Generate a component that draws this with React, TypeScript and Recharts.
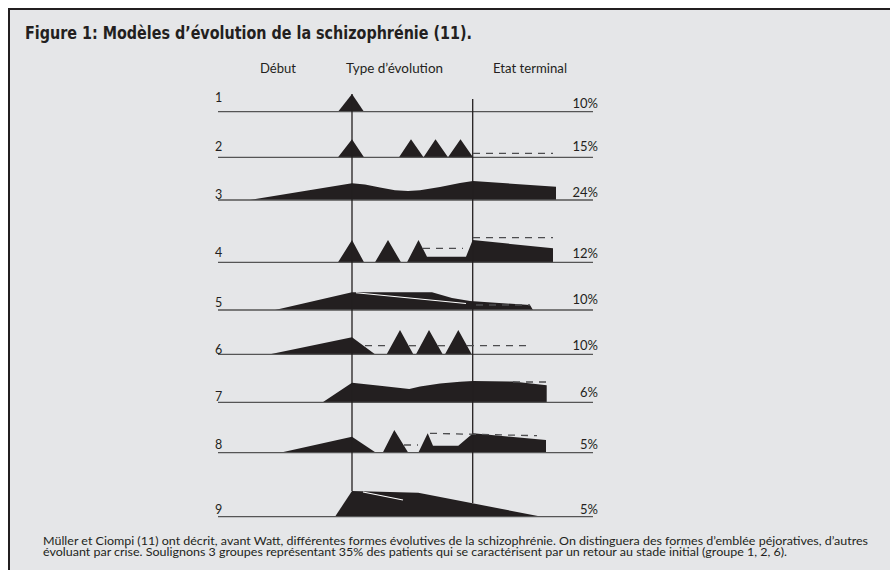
import React from 'react';
import { ComposedChart, Area, Line, Scatter, XAxis, YAxis, Customized } from 'recharts';

const W = 890;
const H = 570;
const INK = '#231f20';
const BG = '#e5e6e8';
const TEXT_FONT = 'Lato, "Open Sans", sans-serif';

// rows: base line level, name, share
const rowBase = [111.7, 157.3, 200, 262.3, 310, 354.3, 402.3, 452.7, 516.7];
const rowNames = ['1', '2', '3', '4', '5', '6', '7', '8', '9'];
const rowShares = ['10%', '15%', '24%', '12%', '10%', '10%', '6%', '5%', '5%'];
const nameLevel = [102, 150.7, 199, 256.7, 306.7, 354, 400.7, 449, 514];
const shareLevel = [108.3, 151, 197.3, 258.3, 304, 350, 397.3, 449.3, 514];

const timeStart = 218;
const timeEnd = 593;
const onset = 352;
const terminal = 472.7;

// course of each row: [time, height above base]
const course1 = [[338, 0], [352, 17.7], [364, 0]];
const course2 = [[338, 0], [352, 18], [364, 0], [399, 0], [411, 18], [423.5, 0], [435.5, 18], [448, 0], [460.5, 18], [473, 0]];
const course3 = [[250, 0], [352, 16.7], [365, 15.5], [380, 12.5], [395, 9.7], [408, 9], [420, 9.7], [440, 13], [460, 17], [473, 19], [556, 13.3]];
const course4 = [[338, 0], [352, 22.3], [364, 0], [375, 0], [388, 22.3], [401, 0], [407, 0], [418.5, 22.3], [427, 5.6], [466, 5.6], [472.7, 22.3], [553, 14]];
const course5 = [[275, 0], [352, 17.7], [432, 17.7], [452, 12], [470, 9], [530, 5], [533, 0]];
const course6 = [[270, 0], [352, 17], [375, 0], [386.7, 0], [400, 24.3], [413.3, 0], [416, 0], [429, 24.3], [442.7, 0], [445, 0], [458.3, 24.3], [471.7, 0]];
const course7 = [[322.7, 0], [352, 19.6], [380, 16.5], [409.3, 13.3], [420, 15.8], [440, 18.8], [460, 20.6], [473, 21.3], [513, 20.8], [546.7, 17]];
const course8 = [[280, 0], [352, 16], [376, 0], [382.7, 0], [394.3, 22.7], [408.3, 0], [418.3, 0], [427.7, 19.4], [433, 7], [458.3, 7], [473, 19.4], [546, 12.7]];
const course9 = [[335, 0], [352, 25.7], [418.3, 24], [541.7, 0]];
const courses = [course1, course2, course3, course4, course5, course6, course7, course8, course9];

// dashed levels: [row, t1, h1, t2, h2]
const dashes = [
  [1, 473, 4, 553, 4],
  [3, 423, 14, 463, 14],
  [3, 473, 24.6, 553, 24.6],
  [4, 476, 5, 530, 5],
  [5, 365, 8.6, 391, 8.6],
  [5, 409, 8.6, 420, 8.6],
  [5, 438, 8.6, 449.5, 8.6],
  [5, 467, 8.6, 532, 8.6],
  [6, 513, 20.3, 547, 20.3],
  [7, 404, 7.7, 418, 7.7],
  [7, 430, 19.4, 537, 17],
];

// white separations inside shapes: [row, t1, h1, t2, h2]
const gaps = [
  [4, 356, 17.3, 466, 6.5],
  [8, 363, 24.7, 403, 16.7],
];

const headers = ['Début', 'Type d’évolution', 'Etat terminal'];
const headerAt = [260, 346, 493];
const headerWidth = [36, 97, 74];
const headerLevel = 73;

const title = 'Figure 1: Modèles d’évolution de la schizophrénie (11).';
const note1 = 'Müller et Ciompi (11) ont décrit, avant Watt, différentes formes évolutives de la schizophrénie.  On distinguera des formes d’emblée péjoratives, d’autres';
const note2 = 'évoluant par crise. Soulignons 3 groupes représentant 35% des patients qui se caractérisent par un retour au stade initial (groupe 1, 2, 6).';

const seg = (row: number, t1: number, h1: number, t2: number, h2: number) => [
  { x: t1, y: rowBase[row] - h1 },
  { x: t2, y: rowBase[row] - h2 },
];

const nameData = rowNames.map((n, i) => ({ x: 215, y: nameLevel[i], label: n }));
const shareData = rowShares.map((s, i) => ({ x: 598, y: shareLevel[i], label: s }));
const headerData = headers.map((h, i) => ({ x: headerAt[i], y: headerLevel, label: h, w: headerWidth[i] }));

const TitleAndNote = () => (
  <g>
    <text x={25} y={39} fontFamily='"Liberation Sans Narrow", "DejaVu Sans Condensed", sans-serif' fontWeight="bold" fontSize={18} fill={INK} textLength={447} lengthAdjust="spacingAndGlyphs">
      {title}
    </text>
    <text x={43} y={544.5} fontFamily={TEXT_FONT} fontSize={11} fill={INK} textLength={825} lengthAdjust="spacingAndGlyphs">
      {note1}
    </text>
    <text x={43} y={556} fontFamily={TEXT_FONT} fontSize={11} fill={INK} textLength={744} lengthAdjust="spacingAndGlyphs">
      {note2}
    </text>
  </g>
);

export default function App() {
  return (
    <div style={{ position: 'relative', width: W, height: H, background: '#fff', overflow: 'hidden' }}>
      <style>{'body{margin:0}'}</style>
      <div style={{ position: 'absolute', left: 8, top: 8, width: W - 8, height: H - 8, background: BG, borderTop: `2px solid ${INK}`, borderLeft: `2px solid ${INK}`, boxSizing: 'border-box' }} />
      <div style={{ position: 'absolute', left: 0, top: 0 }}>
        <ComposedChart width={W} height={H} margin={{ top: 0, right: 0, bottom: 0, left: 0 }}>
          <XAxis type="number" dataKey="x" domain={[0, W]} hide allowDataOverflow />
          <YAxis type="number" dataKey="y" domain={[0, H]} reversed hide allowDataOverflow />

          {rowBase.map((b, i) => (
            <Line key={`base${i}`} data={seg(i, timeStart, 0, timeEnd, 0)} dataKey="y" stroke="#555" strokeWidth={1.3} dot={false} activeDot={false} isAnimationActive={false} />
          ))}
          <Line data={[{ x: onset, y: 94 }, { x: onset, y: 491 }]} dataKey="y" stroke={INK} strokeWidth={1.3} dot={false} activeDot={false} isAnimationActive={false} />
          <Line data={[{ x: terminal, y: 99 }, { x: terminal, y: 503 }]} dataKey="y" stroke={INK} strokeWidth={1.3} dot={false} activeDot={false} isAnimationActive={false} />

          {courses.map((c, i) => (
            <Area
              key={`course${i}`}
              data={c.map(([t, h]) => ({ x: t, band: [rowBase[i] - h, rowBase[i]] }))}
              dataKey="band"
              type="linear"
              fill={INK}
              fillOpacity={1}
              stroke="none"
              dot={false}
              activeDot={false}
              isAnimationActive={false}
            />
          ))}

          {dashes.map(([r, t1, h1, t2, h2], i) => (
            <Line key={`dash${i}`} data={seg(r, t1, h1, t2, h2)} dataKey="y" stroke="#4d4d4f" strokeWidth={1.3} strokeDasharray="7 6" dot={false} activeDot={false} isAnimationActive={false} />
          ))}
          {gaps.map(([r, t1, h1, t2, h2], i) => (
            <Line key={`gap${i}`} data={seg(r, t1, h1, t2, h2)} dataKey="y" stroke="#ffffff" strokeWidth={1.1} dot={false} activeDot={false} isAnimationActive={false} />
          ))}

          <Scatter
            data={nameData}
            isAnimationActive={false}
            shape={(p: any) => (
              <text x={p.cx} y={p.cy} fontFamily={TEXT_FONT} fontSize={12.5} fill={INK}>{p.payload.label}</text>
            )}
          />
          <Scatter
            data={shareData}
            isAnimationActive={false}
            shape={(p: any) => (
              <text x={p.cx} y={p.cy} textAnchor="end" fontFamily={TEXT_FONT} fontSize={13} fill={INK}>{p.payload.label}</text>
            )}
          />
          <Scatter
            data={headerData}
            isAnimationActive={false}
            shape={(p: any) => (
              <text x={p.cx} y={p.cy} fontFamily={TEXT_FONT} fontSize={13.5} fill={INK} textLength={p.payload.w} lengthAdjust="spacingAndGlyphs">{p.payload.label}</text>
            )}
          />
          <Customized component={TitleAndNote} />
        </ComposedChart>
      </div>
    </div>
  );
}
